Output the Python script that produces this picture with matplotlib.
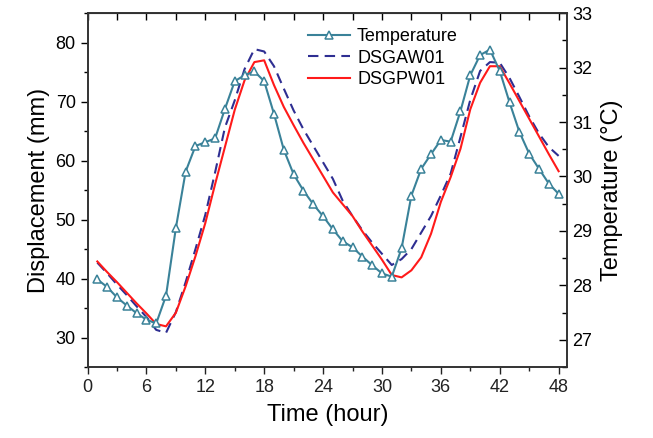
import matplotlib.pyplot as plt
from matplotlib.ticker import MultipleLocator

plt.rcParams['font.family'] = ['Liberation Sans', 'DejaVu Sans']

# hours
hours = list(range(1, 49))

# temperature (right axis, degC)
temperature = [28.11, 27.97, 27.78, 27.63, 27.49, 27.37, 27.30, 27.81, 29.05, 30.09,
               30.56, 30.63, 30.70, 31.24, 31.75, 31.86, 31.93, 31.75, 31.15, 30.49,
               30.04, 29.74, 29.49, 29.27, 29.03, 28.81, 28.70, 28.53, 28.37, 28.22,
               28.16, 28.68, 29.65, 30.14, 30.41, 30.67, 30.64, 31.20, 31.86, 32.23,
               32.33, 31.94, 31.36, 30.82, 30.42, 30.14, 29.87, 29.68]

# displacement (left axis, mm)
dsgaw01 = [42.7, 40.9, 39.0, 37.2, 35.3, 33.5, 31.3, 30.8, 34.3, 39.4,
           45.0, 50.8, 58.0, 65.6, 70.2, 75.5, 78.9, 78.5, 76.0, 72.2,
           68.5, 65.3, 62.5, 59.7, 56.9, 53.2, 50.6, 48.2, 46.1, 44.2,
           42.3, 43.3, 45.0, 47.8, 50.6, 54.1, 57.8, 64.0, 70.3, 75.2,
           76.7, 76.6, 74.0, 70.8, 67.5, 64.6, 62.3, 60.8]

dsgpw01 = [42.9, 41.1, 39.4, 37.6, 35.8, 34.1, 32.3, 31.9, 34.2, 38.7,
           43.8, 49.4, 56.0, 62.3, 68.6, 73.6, 76.7, 77.0, 72.8, 69.1,
           66.0, 63.0, 60.2, 57.4, 54.6, 52.6, 50.6, 48.0, 45.6, 43.2,
           40.6, 40.2, 41.4, 43.6, 47.6, 53.0, 57.2, 62.0, 68.7, 73.2,
           76.0, 76.0, 73.1, 70.1, 67.1, 64.1, 61.1, 58.2]

fig, ax1 = plt.subplots(figsize=(6.53, 4.38), dpi=100)
fig.subplots_adjust(left=0.134, right=0.869, bottom=0.162, top=0.970)
ax2 = ax1.twinx()

teal = '#3A8299'
l1, = ax2.plot(hours, temperature, color=teal, lw=1.5, marker='^', ms=6,
               mfc='white', mec=teal, mew=1.1, label='Temperature', zorder=3)
l2, = ax1.plot(hours, dsgaw01, color='#2E2E92', lw=1.5, dashes=(5, 3), label='DSGAW01')
l3, = ax1.plot(hours, dsgpw01, color='#FF1A1A', lw=1.5, label='DSGPW01')

ax1.set_xlim(0, 48.9)
ax1.set_ylim(25, 85)
ax2.set_ylim(26.5, 33)

ax1.xaxis.set_major_locator(MultipleLocator(6))
ax1.xaxis.set_minor_locator(MultipleLocator(3))
ax1.yaxis.set_major_locator(MultipleLocator(10))
ax1.yaxis.set_minor_locator(MultipleLocator(5))
ax2.yaxis.set_major_locator(MultipleLocator(1))
ax2.yaxis.set_minor_locator(MultipleLocator(0.5))

ax1.tick_params(axis='x', which='both', direction='out', top=False, labelsize=13, colors='#222222')
ax1.tick_params(axis='x', which='major', length=5, width=1)
ax1.tick_params(axis='x', which='minor', length=3, width=1)
ax1.tick_params(axis='y', which='both', direction='out', labelsize=13)
ax1.tick_params(axis='y', which='major', length=5, width=1)
ax1.tick_params(axis='y', which='minor', length=3, width=1)
ax2.tick_params(axis='y', which='both', direction='in', labelsize=13)
ax2.tick_params(axis='y', which='major', length=6, width=1)
ax2.tick_params(axis='y', which='minor', length=3.5, width=1)

# top axis ticks (inward)
sec = ax1.secondary_xaxis('top')
sec.xaxis.set_major_locator(MultipleLocator(6))
sec.xaxis.set_minor_locator(MultipleLocator(3))
sec.tick_params(which='both', direction='in', labeltop=False, width=1)
sec.tick_params(which='major', length=5)
sec.tick_params(which='minor', length=5)

for ax in (ax1, ax2):
    for s in ax.spines.values():
        s.set_linewidth(1.2)
        s.set_color('#333333')

ax1.set_xlabel('Time (hour)', fontsize=17, labelpad=6)
ax1.set_ylabel('Displacement (mm)', fontsize=17, labelpad=4)
ax2.set_ylabel('Temperature (\u00b0C)', fontsize=17, labelpad=6)

ax2.legend(handles=[l1, l2, l3], loc='upper left', bbox_to_anchor=(0.461, 0.952),
           bbox_transform=fig.transFigure, frameon=False, fontsize=13,
           handlelength=2.3, handletextpad=0.4, labelspacing=0.25, borderaxespad=0)

fig.savefig('out.png', dpi=100)
